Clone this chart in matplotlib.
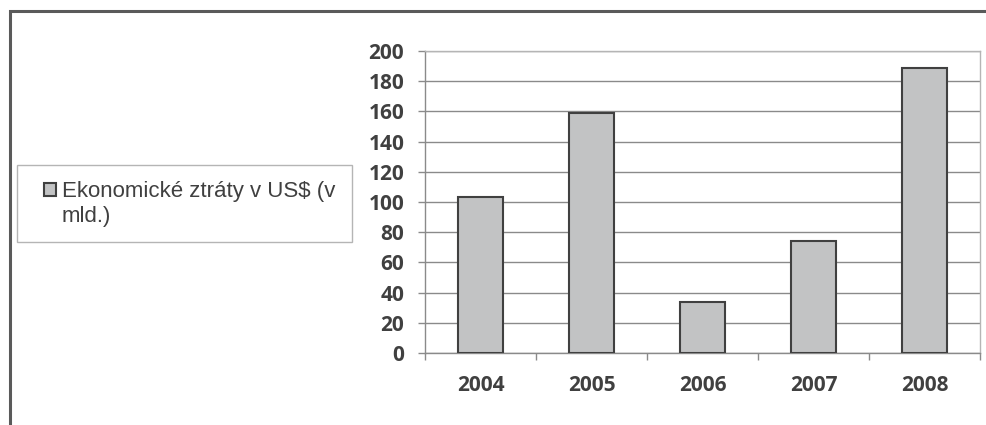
import numpy as np
import matplotlib.pyplot as plt
from matplotlib.patches import Rectangle
from matplotlib.legend_handler import HandlerPatch

years = ['2004', '2005', '2006', '2007', '2008']
losses = [103, 159, 34, 74, 189]
series_name = 'Ekonomické ztráty v US$ (v\nmld.)'
yticks = list(range(0, 201, 20))

fig = plt.figure(figsize=(9.86, 4.25), dpi=100)

# outer chart frame (goes off right and bottom edge)
fig.patches.append(Rectangle((10/986, -0.1), 1.1, 1 - 11/425 + 0.1,
                             transform=fig.transFigure, fill=False,
                             edgecolor='#5a5a5a', linewidth=2.2))
# legend box
fig.patches.append(Rectangle((17/986, 1 - 242/425), 335/986, 77/425,
                             transform=fig.transFigure, fill=False,
                             edgecolor='#b5b5b5', linewidth=1))

ax = fig.add_axes([425/986, 1 - 353/425, (980 - 425)/986, (353 - 51)/425])

x = np.arange(len(years))
bars = ax.bar(x, losses, width=0.4, color='#c2c3c4', edgecolor='#404040',
              linewidth=1.5, label=series_name, zorder=3)

ax.set_xlim(-0.5, len(years) - 0.5)
ax.set_ylim(0, 200)
ax.set_yticks(yticks)
ax.set_xticks(x)
ax.set_xticklabels(years)
ax.set_xticks(np.arange(-0.5, len(years)), minor=True)

ax.grid(axis='y', color='#8a8a8a', linewidth=1, zorder=0)
for s in ['top', 'right']:
    ax.spines[s].set_color('#b5b5b5')
    ax.spines[s].set_linewidth(1)
for s in ['left', 'bottom']:
    ax.spines[s].set_color('#8a8a8a')
    ax.spines[s].set_linewidth(1)

ax.tick_params(axis='y', length=5, width=1, color='#8a8a8a', pad=10,
               labelsize=15, labelcolor='#404040')
ax.tick_params(axis='x', which='major', length=0, pad=16,
               labelsize=15, labelcolor='#404040')
ax.tick_params(axis='x', which='minor', length=5, width=1, color='#8a8a8a')
for lab in ax.get_xticklabels() + ax.get_yticklabels():
    lab.set_fontfamily('Open Sans')
    lab.set_fontweight('bold')


def top_square(legend, orig_handle, xdescent, ydescent, width, height, fontsize):
    # put the key next to the first text line
    return Rectangle((-xdescent, -ydescent + fontsize * 0.65), width, height)


leg = fig.legend(handles=[bars[0]], labels=[series_name],
                 loc='center left', bbox_to_anchor=(44/986, 1 - 204/425),
                 prop={'family': 'Liberation Sans', 'size': 16},
                 frameon=False, borderaxespad=0, borderpad=0,
                 handlelength=0.55, handleheight=0.55, handletextpad=0.25,
                 handler_map={Rectangle: HandlerPatch(patch_func=top_square)})
for t in leg.get_texts():
    t.set_color('#404040')
    t.set_linespacing(1.3)

fig.savefig('out.png', dpi=100)
